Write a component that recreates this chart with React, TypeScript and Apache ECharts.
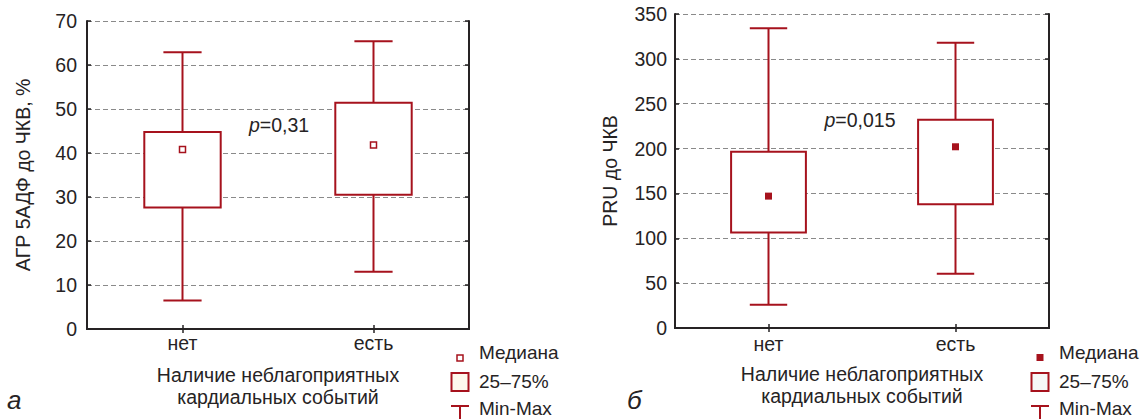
import React, { useEffect, useRef } from "react";
import * as echarts from "echarts";

const categories = ["нет", "есть"];

// Panel a: АГР 5АДФ до ЧКВ, %
const aMin = [6.5, 13];
const aQ1 = [27.6, 30.5];
const aMedian = [40.8, 41.8];
const aQ3 = [44.8, 51.4];
const aMax = [62.9, 65.4];
const aAxisMax = 70;
const aAxisStep = 10;

// Panel б: PRU до ЧКВ
const bMin = [26, 60.5];
const bQ1 = [106.5, 138];
const bMedian = [147, 202];
const bQ3 = [196.5, 232];
const bMax = [334, 318];
const bAxisMax = 350;
const bAxisStep = 50;

const aYName = "АГР 5АДФ до ЧКВ, %";
const bYName = "PRU до ЧКВ";
const xTitle = "Наличие неблагоприятных\nкардиальных событий";
const aP = "0,31";
const bP = "0,015";
const legendLabels = ["Медиана", "25–75%", "Min-Max"];

const RED = "#a6121d";
const INK = "#262324";
const FONT = "Liberation Sans";
const FS = 19.5;
const LFS = 19;

function rows(mn: number[], q1: number[], md: number[], q3: number[], mx: number[]) {
  return categories.map((_, i) => [i, mn[i], q1[i], md[i], q3[i], mx[i]]);
}

function makeRender(hollow: boolean, medW: number, medH: number) {
  return (params: any, api: any) => {
    const ci = api.value(0);
    const pMin = api.coord([ci, api.value(1)]);
    const yQ1 = api.coord([ci, api.value(2)])[1];
    const yMed = api.coord([ci, api.value(3)])[1];
    const yQ3 = api.coord([ci, api.value(4)])[1];
    const yMax = api.coord([ci, api.value(5)])[1];
    const xc = pMin[0];
    const yMin = pMin[1];
    const band = api.size([1, 0])[0];
    const bw = band * 0.4;
    const cw = band * 0.2;
    const st = { stroke: RED, lineWidth: 2 };
    return {
      type: "group",
      children: [
        { type: "line", shape: { x1: xc, y1: yMax, x2: xc, y2: yMin }, style: st },
        { type: "line", shape: { x1: xc - cw / 2, y1: yMax, x2: xc + cw / 2, y2: yMax }, style: st },
        { type: "line", shape: { x1: xc - cw / 2, y1: yMin, x2: xc + cw / 2, y2: yMin }, style: st },
        {
          type: "rect",
          shape: { x: xc - bw / 2, y: yQ3, width: bw, height: yQ1 - yQ3 },
          style: { fill: "#ffffff", stroke: RED, lineWidth: 2 },
        },
        {
          type: "rect",
          shape: { x: xc - medW / 2, y: yMed - medH / 2, width: medW, height: medH },
          style: hollow ? { fill: "#ffffff", stroke: RED, lineWidth: 1.5 } : { fill: RED },
        },
      ],
    };
  };
}

const frameLine = { show: true, lineStyle: { color: INK, width: 2 } };
const innerTick = { show: true, inside: true, length: 4, lineStyle: { color: INK, width: 1.5 } };
const labelStyle = { color: INK, fontSize: FS, fontFamily: FONT };

function xAxes(gridIndex: number, labelMargin: number) {
  return [
    {
      type: "category",
      gridIndex,
      data: categories,
      position: "bottom",
      axisLine: frameLine,
      axisTick: { ...innerTick, alignWithLabel: true },
      axisLabel: { ...labelStyle, margin: labelMargin },
      name: xTitle,
      nameLocation: "middle",
      nameGap: 35,
      nameTextStyle: { ...labelStyle, lineHeight: 22, align: "center" },
      splitLine: { show: false },
    },
    {
      type: "category",
      gridIndex,
      data: categories,
      position: "top",
      axisLine: frameLine,
      axisTick: { ...innerTick, alignWithLabel: true },
      axisLabel: { show: false },
      splitLine: { show: false },
    },
  ];
}

function yAxes(gridIndex: number, max: number, step: number, name: string, labelMargin: number, nameGap: number) {
  return [
    {
      type: "value",
      gridIndex,
      min: 0,
      max,
      interval: step,
      position: "left",
      axisLine: frameLine,
      axisTick: innerTick,
      axisLabel: { ...labelStyle, margin: labelMargin },
      name,
      nameLocation: "middle",
      nameRotate: 90,
      nameGap,
      nameTextStyle: labelStyle,
      splitLine: { show: true, lineStyle: { color: "#8a8a8a", width: 1, type: [5, 3] } },
    },
    {
      type: "value",
      gridIndex,
      min: 0,
      max,
      interval: step,
      position: "right",
      axisLine: frameLine,
      axisTick: innerTick,
      axisLabel: { show: false },
      splitLine: { show: false },
    },
  ];
}

function legendGraphics(markX: number, textX: number, hollow: boolean, boxFill: string) {
  const txt = (t: string, y: number) => ({
    type: "text",
    x: textX,
    y,
    style: { text: t, fill: INK, fontSize: LFS, fontFamily: FONT, align: "left", verticalAlign: "middle" },
  });
  const med = hollow
    ? { type: "rect", shape: { x: markX - 3, y: 355, width: 6, height: 6 }, style: { fill: "#fff", stroke: RED, lineWidth: 1.5 } }
    : { type: "rect", shape: { x: markX - 3.5, y: 354, width: 7, height: 7 }, style: { fill: RED } };
  return [
    med,
    txt(legendLabels[0], 352),
    { type: "rect", shape: { x: markX - 8.5, y: 373, width: 17, height: 18 }, style: { fill: boxFill, stroke: RED, lineWidth: 2 } },
    txt(legendLabels[1], 381),
    { type: "line", shape: { x1: markX - 9, y1: 406, x2: markX + 9, y2: 406 }, style: { stroke: RED, lineWidth: 2 } },
    { type: "line", shape: { x1: markX, y1: 406, x2: markX, y2: 419 }, style: { stroke: RED, lineWidth: 2 } },
    txt(legendLabels[2], 408.5),
  ];
}

function pText(x: number, y: number, value: string) {
  return {
    type: "text",
    x,
    y,
    style: {
      text: "{i|p}{n|=" + value + "}",
      align: "center",
      verticalAlign: "middle",
      fill: INK,
      fontSize: FS,
      fontFamily: FONT,
      rich: {
        i: { fontStyle: "italic", fontSize: FS, fontFamily: FONT, fill: INK },
        n: { fontSize: FS, fontFamily: FONT, fill: INK },
      },
    },
  };
}

export default function App() {
  const ref = useRef<HTMLDivElement>(null);
  useEffect(() => {
    document.body.style.margin = "0";
    if (!ref.current) return;
    const chart = echarts.init(ref.current, undefined, { renderer: "svg" });
    const option: any = {
      animation: false,
      backgroundColor: "#ffffff",
      textStyle: { fontFamily: FONT },
      grid: [
        { left: 87, top: 21, width: 382, height: 308 },
        { left: 675, top: 14, width: 374, height: 314 },
      ],
      xAxis: [...xAxes(0, 4), ...xAxes(1, 6)],
      yAxis: [
        ...yAxes(0, aAxisMax, aAxisStep, aYName, 10, 54),
        ...yAxes(1, bAxisMax, bAxisStep, bYName, 8, 55),
      ],
      series: [
        {
          type: "custom",
          xAxisIndex: 0,
          yAxisIndex: 0,
          renderItem: makeRender(true, 6, 6),
          encode: { x: 0, y: [1, 2, 3, 4, 5] },
          data: rows(aMin, aQ1, aMedian, aQ3, aMax),
          z: 3,
        },
        {
          type: "custom",
          xAxisIndex: 2,
          yAxisIndex: 2,
          renderItem: makeRender(false, 7, 7),
          encode: { x: 0, y: [1, 2, 3, 4, 5] },
          data: rows(bMin, bQ1, bMedian, bQ3, bMax),
          z: 3,
        },
      ],
      graphic: [
        pText(279, 125, aP),
        pText(860, 120, bP),
        ...legendGraphics(460, 479, true, "#fdf8ec"),
        ...legendGraphics(1040, 1059, false, "#f6f6f6"),
        {
          type: "text",
          x: 7,
          y: 400,
          style: { text: "а", fill: INK, fontSize: 26, fontStyle: "italic", fontFamily: FONT, verticalAlign: "middle" },
        },
        {
          type: "text",
          x: 627,
          y: 400,
          style: { text: "б", fill: INK, fontSize: 26, fontStyle: "italic", fontFamily: FONT, verticalAlign: "middle" },
        },
      ],
    };
    chart.setOption(option);
    return () => chart.dispose();
  }, []);
  return <div ref={ref} style={{ width: 1142, height: 419 }} />;
}
